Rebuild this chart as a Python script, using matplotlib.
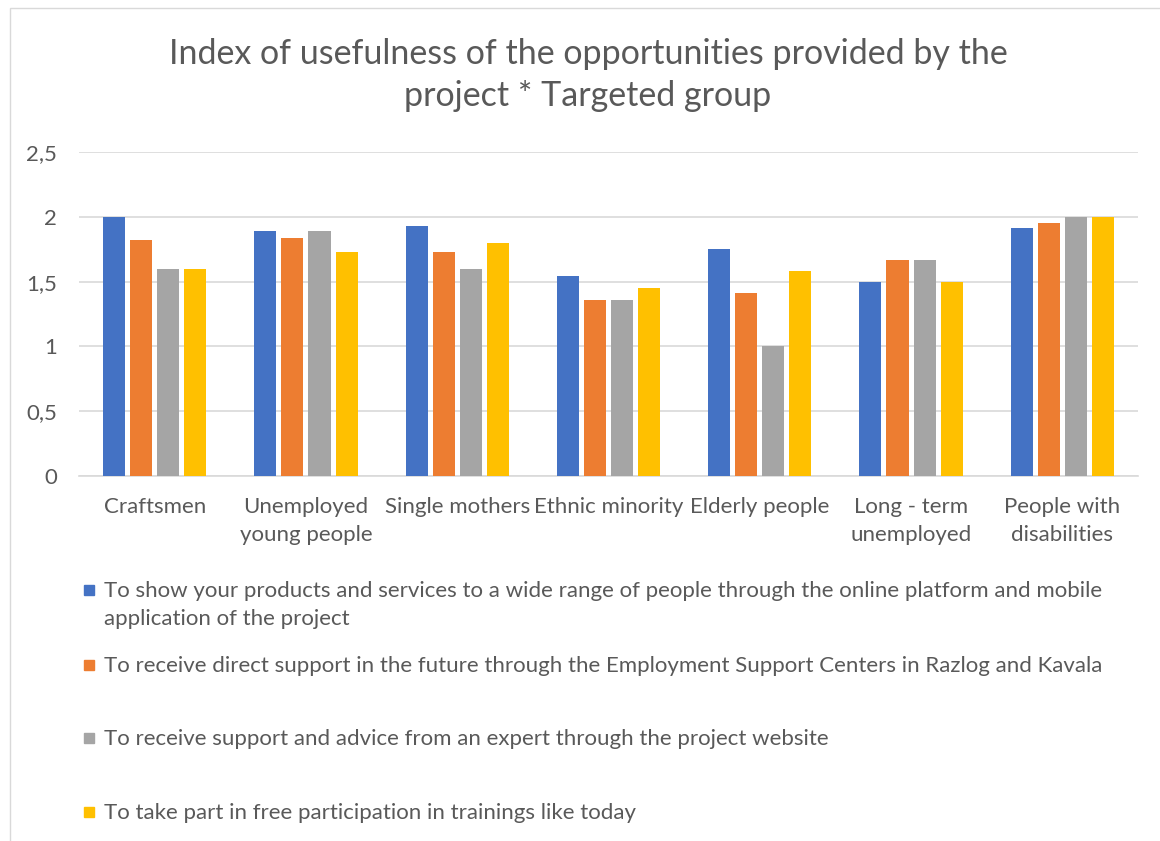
import matplotlib.pyplot as plt
import matplotlib.patches as mpatches
import numpy as np

plt.rcParams['font.family'] = ['Lato', 'DejaVu Sans']

grupos = ['Craftsmen', 'Unemployed\nyoung people', 'Single mothers', 'Ethnic minority',
          'Elderly people', 'Long - term\nunemployed', 'People with\ndisabilities']

plataforma = [2.0, 1.89, 1.93, 1.54, 1.75, 1.5, 1.91]
centros = [1.82, 1.84, 1.73, 1.36, 1.41, 1.67, 1.95]
especialista = [1.6, 1.89, 1.6, 1.36, 1.0, 1.67, 2.0]
treinamentos = [1.6, 1.73, 1.8, 1.45, 1.58, 1.5, 2.0]

legendas = ['To show your products and services to a wide range of people through the online platform and mobile\napplication of the project',
            'To receive direct support in the future through the Employment Support Centers in Razlog and Kavala',
            'To receive support and advice from an expert through the project website',
            'To take part in free participation in trainings like today']

cores = ['#4472C4', '#ED7D31', '#A5A5A5', '#FFC000']
series = [plataforma, centros, especialista, treinamentos]

fig = plt.figure(figsize=(11.6, 8.41), dpi=100)
ax = fig.add_axes([79/1160, 1 - 476/841, (1138 - 79)/1160, (476 - 152)/841])

x = np.arange(len(grupos))
largura = 0.146
passo = 0.179
for i, (valores, cor) in enumerate(zip(series, cores)):
    ax.bar(x + (i - 1.5)*passo, valores, largura, color=cor, zorder=3)

ax.set_xlim(-0.5, len(grupos) - 0.5)
ax.set_ylim(0, 2.5)
ax.set_yticks([0, 0.5, 1, 1.5, 2, 2.5])
ax.set_yticklabels(['0', '0,5', '1', '1,5', '2', '2,5'])
ax.set_xticks(x)
ax.set_xticklabels(grupos, linespacing=1.5)
ax.tick_params(axis='y', length=0, pad=16, labelsize=16, labelcolor='#595959')
ax.tick_params(axis='x', length=0, pad=15, labelsize=16, labelcolor='#595959')
ax.grid(axis='y', color='#D9D9D9', linewidth=1.2, zorder=0)
for lado in ['top', 'right', 'left']:
    ax.spines[lado].set_visible(False)
ax.spines['bottom'].set_color('#D9D9D9')
ax.spines['bottom'].set_linewidth(1.2)

fig.text(588/1160, 1 - 75/841, 'Index of usefulness of the opportunities provided by the\nproject * Targeted group',
         ha='center', va='center', fontsize=24.5, color='#595959', linespacing=1.42)

# legenda feita a mao, com espacamento irregular
ys = [590, 665, 738, 812]
for y, texto, cor in zip(ys, legendas, cores):
    fig.patches.append(mpatches.Rectangle((84/1160, 1 - (y + 5)/841), 10/1160, 10/841,
                                          transform=fig.transFigure, color=cor))
    fig.text(104/1160, 1 - (y - 9)/841, texto, ha='left', va='top', fontsize=16,
             color='#595959', linespacing=1.5)

# moldura do grafico
fig.patches.append(mpatches.Rectangle((10/1160, -0.01), 1.2, 1 - 8/841 + 0.01, transform=fig.transFigure,
                                      fill=False, edgecolor='#D9D9D9', linewidth=1))

fig.savefig('out.png', dpi=100)
